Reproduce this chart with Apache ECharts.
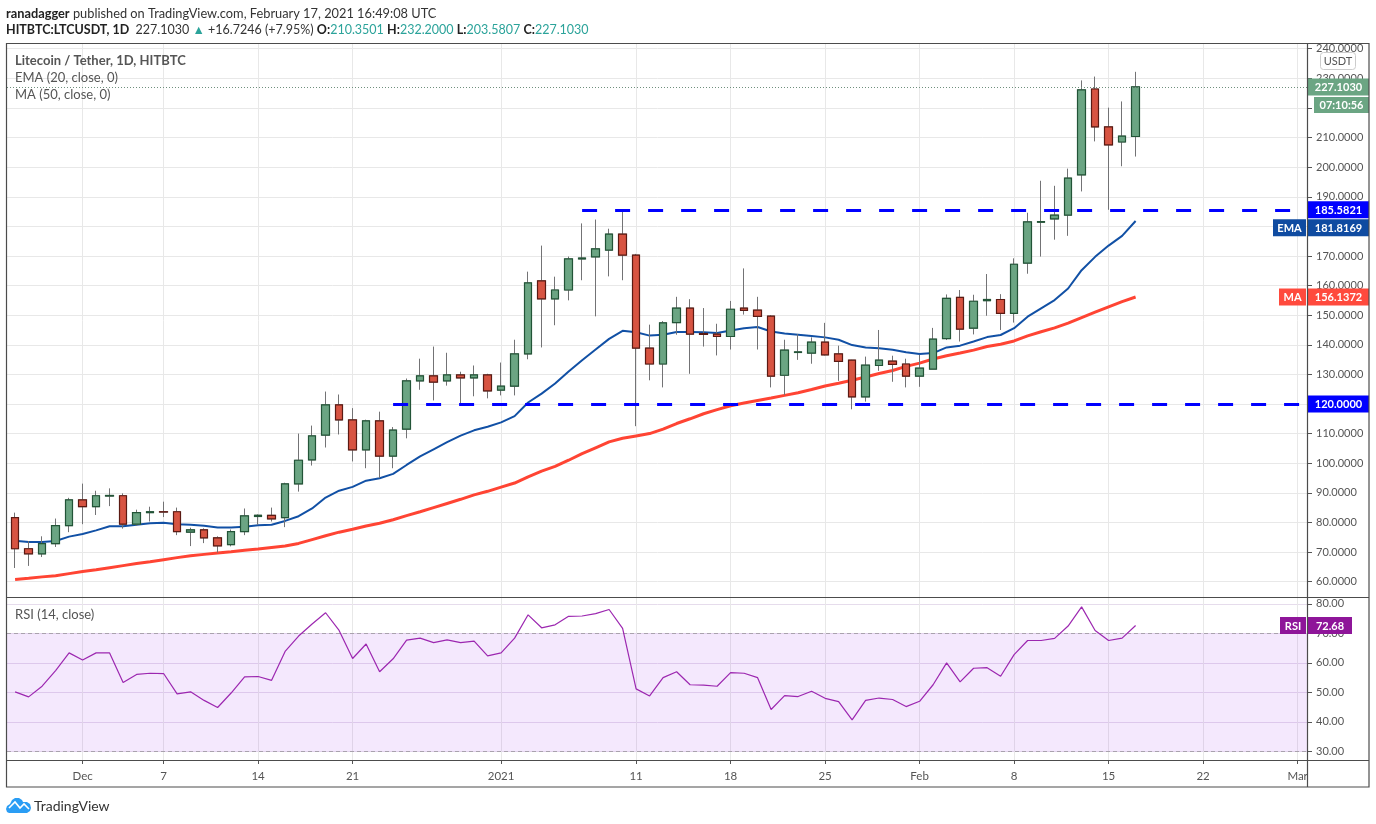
<!DOCTYPE html>
<html>
<head>
<meta charset="utf-8">
<title>LTCUSDT</title>
<script src="https://cdn.jsdelivr.net/npm/echarts@6/dist/echarts.min.js"></script>
<style>html,body{margin:0;padding:0;background:#fff}#c{width:1376px;height:824px}</style>
</head>
<body>
<div id="c"></div>
<script>
const dates = ['Nov 26','Nov 27','Nov 28','Nov 29','Nov 30','Dec 1','Dec 2','Dec 3','Dec 4','Dec 5','Dec 6','Dec 7','Dec 8','Dec 9','Dec 10','Dec 11','Dec 12','Dec 13','Dec 14','Dec 15','Dec 16','Dec 17','Dec 18','Dec 19','Dec 20','Dec 21','Dec 22','Dec 23','Dec 24','Dec 25','Dec 26','Dec 27','Dec 28','Dec 29','Dec 30','Dec 31','Jan 1','Jan 2','Jan 3','Jan 4','Jan 5','Jan 6','Jan 7','Jan 8','Jan 9','Jan 10','Jan 11','Jan 12','Jan 13','Jan 14','Jan 15','Jan 16','Jan 17','Jan 18','Jan 19','Jan 20','Jan 21','Jan 22','Jan 23','Jan 24','Jan 25','Jan 26','Jan 27','Jan 28','Jan 29','Jan 30','Jan 31','Feb 1','Feb 2','Feb 3','Feb 4','Feb 5','Feb 6','Feb 7','Feb 8','Feb 9','Feb 10','Feb 11','Feb 12','Feb 13','Feb 14','Feb 15','Feb 16','Feb 17'];
const opens = [81.6,71.1,69.4,72.8,78.9,87.6,85.3,88.9,89,79.4,83.3,83.6,83.6,76.7,77.5,74.8,72.5,76.9,82,82.4,81.6,93,101.1,109.5,119.7,114.6,104.5,114.3,102.4,111.5,127.8,129.5,127.8,129.8,128.8,129.8,124.7,126,136.9,161.6,155.5,158.5,169,169.7,172,177.4,170.3,138.9,133.5,147.5,152.4,143.8,143.6,142.8,152.4,151.7,149.7,129.7,137.4,137.2,140.9,136.9,134.8,122.4,133,134.5,133.5,129.4,131.8,142.1,156,145.6,154.9,155.3,150.6,167.6,181.4,182.5,183.8,197.4,226.4,213.6,208.5,210.3501];
const closes = [71.1,69.4,72.8,78.9,87.6,85.3,89,89.1,79.4,83.3,83.6,83.5,76.9,77.5,74.8,72.1,76.9,82.2,82.4,81.2,93,101,109.2,119.7,114.6,104.5,114.3,102.4,111.2,127.8,129.5,127.4,129.8,128.8,129.8,124.4,126,136.9,160.9,155.5,158.5,169,169.3,172.4,177.4,170.3,138.9,133.5,147.4,152.4,143.6,143.5,142.8,152,151.6,149.6,129.4,138.2,137.6,140.9,136.6,134.4,122.4,133.1,134.8,133.4,129.4,132.1,141.9,155.7,145.3,154.7,155.3,150.6,167.2,181.5,181.6,183.8,196.3,226.1,213.6,207.5,210.5,227.103];
const lows = [64.6,65.3,68.3,71.7,76.7,79.4,82.5,85.5,77.9,78.8,80.3,81.8,75.7,72,73,69.8,71.9,75.7,79.2,80.3,78.4,90.4,99.2,105.3,109.7,100.6,98.3,95,98.3,108.4,124.8,121.2,126.2,120.3,122.6,121.9,122.9,122.9,135.1,139.1,146.6,155,161.8,149.6,163.1,161.8,112.5,128,125.6,143.4,130.2,139.4,136.4,138.4,150.2,138.4,125.6,123,134.9,133.6,136.4,127.8,118.2,120.8,131.2,127.5,125.6,125.8,131.8,141.6,141.1,143.5,149.8,145,147.5,164,169.8,175.5,176.8,191.8,208.7,185.6,200.3,203.5807];
const highs = [83.3,73.7,75.3,81.3,88.3,93.1,90.7,91.5,89.8,84.3,85.3,87,85,78.2,78,75.3,77.6,84.7,82.7,85,93.4,110,112.7,124.2,123.2,118.6,114.7,117.4,112.2,128.6,135.3,139.4,137.3,130.9,133,130.2,134,141.7,164.7,173.5,163,169.8,181,182.3,179.2,185.6,170.7,146.8,148,156.2,155.4,152.4,147.1,154.8,165.8,156.2,150,141.7,143.6,142.5,147.4,139.7,134.9,136,145,136.3,135.3,136.6,145.7,157,158.5,156.9,163.9,157.1,169.2,184.6,195.4,193.7,199.5,229.3,230.6,220.1,222.2,232.2];
const ema20 = [73.8,73.4,73.4,73.7,75.2,76.1,77.3,78.7,78.7,79.2,79.7,79.9,79.4,79.2,78.9,78.3,78.3,78.5,79,79.2,80.5,82.1,84.7,88.4,90.7,92,94.1,94.9,96.4,99.4,102.3,104.7,107.1,109.3,111.1,112.3,113.8,115.9,120.5,123.5,126.9,131,134.8,138.4,142,144.7,144.2,143.1,143.4,144.3,144.3,144.2,144,144.8,145.6,146,144.5,143.8,143.4,143,142.5,141.7,139.9,139.1,138.8,138.3,137.5,136.9,137.2,139.1,139.7,141.1,142.6,143.3,145.6,149.5,152.3,155.1,159,165.2,169.7,173.5,176.8,181.8169];
const ma50 = [60.7,61.1,61.6,62,62.7,63.4,64,64.7,65.4,66.1,66.7,67.4,68.1,68.7,69.2,69.7,70.1,70.6,71,71.5,72,72.9,74.2,75.5,76.7,77.7,78.8,79.7,80.9,82.3,83.6,85,86.4,87.8,89.3,90.5,91.9,93.3,95.4,97.3,98.9,101,103.2,105.2,107.2,108.4,109.2,110,111.5,113.4,115,116.7,118.1,119.4,120.3,121.2,122,122.9,123.8,124.9,126.1,127,128,129.1,130.3,131.3,132.7,133.8,135.2,136.3,137.2,138.2,139.4,140.2,141.3,143,144.4,145.7,147.3,149.2,151,152.8,154.6,156.1372];
const rsi14 = [50.2,48.5,52.1,57.4,63.4,61,63.4,63.4,53.4,56.1,56.5,56.4,49.5,50.2,47.3,44.9,49.8,55.3,55.4,54.1,63.9,69.1,73.2,77,71,61.5,66.4,57,61.4,67.7,68.4,66.9,67.8,66.9,67.4,62.4,63.4,68.4,76.3,71.9,72.9,75.8,75.9,76.7,78.1,71.7,51.2,48.8,55,57,52.6,52.5,52.1,56.7,56.5,55,44.2,48.9,48.6,50.4,48,46.9,40.7,47.3,48.1,47.6,45.2,47,52.6,60,53.6,58.2,58.4,55.5,62.8,67.6,67.6,68.3,72.5,79,71,67.6,68.4,72.68];

const timeTickIdx = [5,11,18,25,36,46,53,60,67,74,81,88,95];
const timeTickLabels = ['Dec','7','14','21','2021','11','18','25','Feb','8','15','22','Mar'];
const priceTicks = [60,70,80,90,100,110,120,130,140,150,160,170,180,190,200,210,220,230,240];
const rsiTicks = [30,40,50,60,70,80];

const levelValues = [185.5821,120];
const levelStartIdx = [42,28];
const badgeValues = [227.103,185.5821,181.8169,156.1372,120];
const badgeTexts = ['227.1030','185.5821','181.8169','156.1372','120.0000'];
const badgeColors = ['#6ba583','#0000ff','#0f4ba1','#ff4a3d','#0000ff'];
const badgeTags = ['','','EMA','MA',''];

const FONT = 'Lato, "Open Sans", sans-serif';
const xMin = -0.6, xMax = 95.77;
const txt = '#555';
const grid = '#e8e8e8';

const fullCandles = dates.map((d,i)=>[i,opens[i],closes[i],lows[i],highs[i]]);
const bodies = dates.map((d,i)=>[i,opens[i],closes[i],Math.min(opens[i],closes[i]),Math.max(opens[i],closes[i])]);

function badge(params, api, x, y, w, text, color, tag, tagW) {
  const kids = [
    {type:'rect',shape:{x:x,y:y-8.5,width:w,height:17},style:{fill:color}},
    {type:'text',style:{x:x+w/2,y:y+0.5,text:text,fill:'#fff',align:'center',verticalAlign:'middle',font:'bold 11px '+FONT}}
  ];
  if (tag) {
    kids.push({type:'rect',shape:{x:x-2-tagW,y:y-8.5,width:tagW,height:17},style:{fill:color}});
    kids.push({type:'text',style:{x:x-2-tagW/2,y:y+0.5,text:tag,fill:'#fff',align:'center',verticalAlign:'middle',font:'bold 11px '+FONT}});
  }
  return kids;
}

const option = {
  animation:false,
  backgroundColor:'#fff',
  grid:[
    {left:7,top:44,width:1301,height:553,containLabel:false},
    {left:7,top:598,width:1301,height:162}
  ],
  xAxis:[
    {type:'value',gridIndex:0,min:xMin,max:xMax,
      axisLine:{show:false,onZero:false},axisTick:{show:false,customValues:timeTickIdx},
      axisLabel:{show:false,customValues:timeTickIdx},
      splitLine:{show:true,lineStyle:{color:grid,width:1}}},
    {type:'value',gridIndex:1,min:xMin,max:xMax,
      axisLine:{show:false,onZero:false},
      axisTick:{show:true,length:4,customValues:timeTickIdx,lineStyle:{color:'#555'}},
      axisLabel:{show:true,customValues:timeTickIdx,color:txt,fontFamily:FONT,fontSize:11.5,margin:10,showMinLabel:true,showMaxLabel:true,
        formatter:v=>timeTickLabels[timeTickIdx.indexOf(v)]},
      splitLine:{show:true,lineStyle:{color:grid,width:1}}}
  ],
  yAxis:[
    {type:'value',gridIndex:0,position:'right',min:54.8,max:241.6,
      axisLine:{show:false,onZero:false},
      axisTick:{show:true,length:4,customValues:priceTicks,lineStyle:{color:'#555'}},
      axisLabel:{customValues:priceTicks,color:txt,fontFamily:FONT,fontSize:11,margin:8,padding:[1,0,0,0],formatter:v=>v.toFixed(4)},
      splitLine:{show:true,lineStyle:{color:grid,width:1}}},
    {type:'value',gridIndex:1,position:'right',min:27.1,max:82,
      axisLine:{show:false,onZero:false},
      axisTick:{show:true,length:4,customValues:rsiTicks,lineStyle:{color:'#555'}},
      axisLabel:{customValues:rsiTicks,color:txt,fontFamily:FONT,fontSize:11,margin:8,padding:[1,0,0,0],formatter:v=>v.toFixed(2)},
      splitLine:{show:true,lineStyle:{color:'#e6dcec',width:1}}}
  ],
  series:[
    {name:'MA',type:'line',xAxisIndex:0,yAxisIndex:0,data:ma50.map((v,i)=>[i,v]),showSymbol:false,z:3,
      lineStyle:{color:'#ff4433',width:3}},
    {name:'EMA',type:'line',xAxisIndex:0,yAxisIndex:0,data:ema20.map((v,i)=>[i,v]),showSymbol:false,z:3,
      lineStyle:{color:'#1150a5',width:2}},
    {name:'wicks',type:'candlestick',xAxisIndex:0,yAxisIndex:0,data:fullCandles,encode:{x:0,y:[1,2,3,4]},barWidth:8,z:4,
      itemStyle:{color:'#6ba583',color0:'#d75442',borderColor:'#737375',borderColor0:'#737375',borderWidth:1}},
    {name:'bodies',type:'candlestick',xAxisIndex:0,yAxisIndex:0,data:bodies,encode:{x:0,y:[1,2,3,4]},barWidth:8,z:5,
      itemStyle:{color:'#6ba583',color0:'#d75442',borderColor:'#225437',borderColor0:'#5b1a13',borderWidth:1.2},
      markLine:{silent:true,symbol:'none',z:6,animation:false,label:{show:false},
        data:[
          ...levelValues.map((v,k)=>[
            {coord:[levelStartIdx[k],v],lineStyle:{color:'#0000ff',width:3,type:[15,18],cap:'butt'}},
            {coord:[xMax,v]}]),
          [{coord:[xMin,closes[closes.length-1]],lineStyle:{color:'#6f8f7d',width:1,type:[1,2]}},
           {coord:[xMax,closes[closes.length-1]]}]
        ]}},
    {name:'badges',type:'custom',xAxisIndex:0,yAxisIndex:0,z:20,clip:false,silent:true,
      data:badgeValues.map((v,i)=>[xMax,v,i]),
      encode:{x:0,y:1},
      renderItem(params,api){
        const k=api.value(2); const p=api.coord([xMax,api.value(1)]);
        // the EMA tag is pushed down so it does not collide with the level tag above it
        const y=p[1]+(badgeTags[k]==='EMA'?6.7:0);
        const kids=badge(params,api,p[0],y,61,badgeTexts[k],badgeColors[k],badgeTags[k],badgeTags[k]==='EMA'?33:27);
        if(k===0){
          kids.push({type:'rect',shape:{x:p[0]+6,y:y+10,width:55,height:16},style:{fill:badgeColors[0]}});
          kids.push({type:'text',style:{x:p[0]+33.5,y:y+18.5,text:'07:10:56',fill:'#fff',align:'center',verticalAlign:'middle',font:'bold 11px '+FONT}});
        }
        return {type:'group',children:kids};
      }},
    {name:'RSI',type:'line',xAxisIndex:1,yAxisIndex:1,data:rsi14.map((v,i)=>[i,v]),showSymbol:false,z:5,
      lineStyle:{color:'#9c27b0',width:1.2},
      markArea:{silent:true,z:1,itemStyle:{color:'rgba(150,40,240,0.105)'},data:[[{coord:[xMin,70]},{coord:[xMax,30]}]]},
      markLine:{silent:true,symbol:'none',animation:false,label:{show:false},
        lineStyle:{color:'#a9a2ad',width:1,type:[4,3]},
        data:[{yAxis:70},{yAxis:30}]}},
    {name:'rsiBadge',type:'custom',xAxisIndex:1,yAxisIndex:1,z:20,clip:false,silent:true,
      data:[[xMax,rsi14[rsi14.length-1]]],encode:{x:0,y:1},
      renderItem(params,api){
        const p=api.coord([xMax,api.value(1)]);
        return {type:'group',children:badge(params,api,p[0],p[1],44,api.value(1).toFixed(2),'#8e1599','RSI',26)};
      }}
  ],
  graphic:[
    {type:'rect',z:30,silent:true,shape:{x:6.5,y:43.5,width:1362.5,height:743.5},style:{fill:'none',stroke:'#4c4c4c',lineWidth:1.2}},
    {type:'line',z:30,silent:true,shape:{x1:1307.5,y1:44,x2:1307.5,y2:787},style:{stroke:'#4c4c4c',lineWidth:1.2}},
    {type:'line',z:30,silent:true,shape:{x1:6,y1:597.5,x2:1369,y2:597.5},style:{stroke:'#4c4c4c',lineWidth:1.2}},
    {type:'line',z:30,silent:true,shape:{x1:6,y1:760.5,x2:1369,y2:760.5},style:{stroke:'#4c4c4c',lineWidth:1.2}},
    {type:'text',z:31,silent:true,style:{x:6,y:14,verticalAlign:'middle',text:'{b|ranadagger} published on TradingView.com, February 17, 2021 16:49:08 UTC',
      font:'12.8px '+FONT,fill:'#333',rich:{b:{fontFamily:FONT,fontSize:12.8,fontWeight:'bold',fill:'#222'}}}},
    {type:'text',z:31,silent:true,style:{x:6,y:30,verticalAlign:'middle',
      text:'{b|HITBTC:LTCUSDT, 1D}  227.1030 {t|▲} +16.7246 (+7.95%) {b|O:}{t|210.3501} {b|H:}{t|232.2000} {b|L:}{t|203.5807} {b|C:}{t|227.1030}',
      font:'12.5px '+FONT,fill:'#333',rich:{b:{fontFamily:FONT,fontSize:12.5,fontWeight:'bold',fill:'#222'},t:{fontFamily:FONT,fontSize:12.5,fill:'#2ba39a'}}}},
    {type:'text',z:31,silent:true,style:{x:15,y:61,verticalAlign:'middle',text:'Litecoin / Tether, 1D, HITBTC',font:'bold 13px '+FONT,fill:'#555'}},
    {type:'text',z:31,silent:true,style:{x:15,y:78,verticalAlign:'middle',text:'EMA (20, close, 0)',font:'13px '+FONT,fill:'#555'}},
    {type:'text',z:31,silent:true,style:{x:15,y:95,verticalAlign:'middle',text:'MA (50, close, 0)',font:'13px '+FONT,fill:'#555'}},
    {type:'text',z:31,silent:true,style:{x:15,y:615,verticalAlign:'middle',text:'RSI (14, close)',font:'13px '+FONT,fill:'#555'}},
    {type:'rect',z:31,silent:true,shape:{x:1320.5,y:52.5,width:35,height:17,r:3},style:{fill:'#fff',stroke:'#ccc',lineWidth:1}},
    {type:'text',z:32,silent:true,style:{x:1338,y:61.5,align:'center',verticalAlign:'middle',text:'USDT',font:'11px '+FONT,fill:'#555'}},
    {type:'polygon',z:31,silent:true,shape:{points:[[6,809],[7,806],[10,804],[12,800],[15,798],[19,798],[22,800],[23,802],[27,802],[30,804],[31,808],[30,811],[27,813],[9,813],[7,812]]},style:{fill:'#2a9df4'}},
    {type:'polyline',z:32,silent:true,shape:{points:[[9,808],[15,802],[20,808],[24,804],[29,809]]},style:{stroke:'#fff',fill:'none',lineWidth:1.6}},
    {type:'text',z:31,silent:true,style:{x:34,y:806,verticalAlign:'middle',text:'TradingView',font:'14px '+FONT,fill:'#333'}}
  ]
};
const chart = echarts.init(document.getElementById('c'),null,{renderer:'canvas',width:1376,height:824});
chart.setOption(option);
</script>
</body>
</html>
